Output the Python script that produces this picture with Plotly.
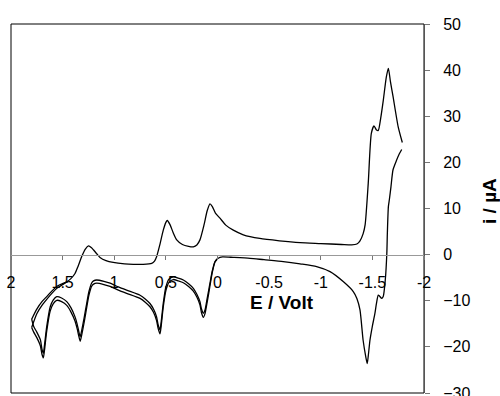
import plotly.graph_objects as go

# Cathodic (forward) sweep, cycle 1
E_fwd = [1.80, 1.75, 1.70, 1.654, 1.60, 1.55, 1.50, 1.46, 1.42, 1.38, 1.35, 1.315, 1.28, 1.25,
         1.22, 1.20, 1.17, 1.138, 1.08, 1.01, 0.90, 0.815, 0.72, 0.637, 0.61, 0.589, 0.56,
         0.525, 0.50, 0.486, 0.46, 0.43, 0.395, 0.34, 0.28, 0.234, 0.20, 0.17, 0.13, 0.10,
         0.073, 0.05, 0.02, -0.024, -0.08, -0.153, -0.25, -0.41, -0.6, -0.8, -1.0, -1.2,
         -1.3, -1.35, -1.38, -1.41, -1.43, -1.46, -1.49, -1.516, -1.54, -1.557, -1.58,
         -1.606, -1.635, -1.655, -1.675, -1.70, -1.75, -1.79]
i_fwd = [-14.0, -11.8, -10.2, -9.1, -7.8, -6.8, -6.3, -5.9, -5.2, -4.1, -2.5, -0.4, 1.2, 1.9,
         1.5, 1.0, 0.2, -0.6, -1.3, -1.7, -2.0, -2.1, -2.1, -1.9, -1.4, -0.4, 2.0,
         5.3, 7.0, 7.4, 6.5, 4.8, 3.2, 2.2, 1.8, 1.7, 2.1, 3.2, 6.5, 9.5,
         11.0, 10.4, 9.0, 7.9, 6.4, 5.3, 4.3, 3.5, 3.0, 2.6, 2.4, 2.2,
         2.1, 2.3, 3.0, 4.5, 6.5, 15.5, 26.3, 27.9, 27.0, 26.9, 29.5,
         33.5, 38.5, 40.4, 37.5, 34.3, 27.7, 24.3]

# Anodic (reverse) sweep, cycle 1
E_rev = [-1.784, -1.76, -1.735, -1.70, -1.68, -1.665, -1.655, -1.645, -1.64, -1.625, -1.605,
         -1.59, -1.57, -1.557, -1.54, -1.525, -1.50, -1.477, -1.46, -1.45, -1.435, -1.41,
         -1.38, -1.35, -1.315, -1.22, -1.09, -0.96, -0.80, -0.637, -0.45, -0.315, -0.15,
         -0.05, -0.024, 0.0, 0.024, 0.05, 0.073, 0.10, 0.121, 0.137, 0.155, 0.17, 0.20,
         0.234, 0.28, 0.331, 0.38, 0.428, 0.47, 0.50, 0.525, 0.545, 0.557, 0.575, 0.59,
         0.62, 0.654, 0.70, 0.75, 0.88, 0.96, 1.04, 1.10, 1.17, 1.20, 1.22, 1.245, 1.267,
         1.29, 1.315, 1.33, 1.345, 1.36, 1.38, 1.42, 1.46, 1.51, 1.557, 1.59, 1.62, 1.654,
         1.675, 1.687, 1.70, 1.715, 1.75, 1.78, 1.80]
i_rev = [22.8, 21.8, 20.5, 18.4, 14.7, 12.0, 10.4, 4.6, 0.3, -5.5, -9.1,
         -9.5, -9.0, -8.8, -10.5, -12.7, -15.5, -18.5, -22.0, -23.6, -22.0, -18.5,
         -12.0, -9.5, -8.0, -5.9, -3.7, -2.6, -2.0, -1.5, -1.1, -0.8, -0.6,
         -0.5, -0.6, -0.9, -1.5, -3.5, -6.2, -9.5, -12.0, -12.7, -11.8, -10.2, -8.6,
         -7.3, -6.3, -5.5, -5.1, -4.8, -5.3, -7.0, -10.5, -14.5, -16.3, -15.2, -13.5,
         -11.8, -10.6, -9.6, -8.8, -7.7, -7.0, -6.2, -5.8, -5.5, -5.7, -6.2, -8.0, -10.6,
         -13.5, -16.4, -17.8, -16.5, -15.0, -13.5, -11.5, -10.2, -9.4, -9.1, -9.8, -11.3, -15.6,
         -19.5, -21.4, -20.5, -18.5, -16.8, -15.6, -14.0]

# Repeat cycle: anodic branch (positive potentials) and start of cathodic sweep
E_rev2 = [0.0, 0.024, 0.05, 0.073, 0.10, 0.121, 0.137, 0.155, 0.17, 0.20, 0.234, 0.28, 0.331,
          0.38, 0.428, 0.47, 0.50, 0.525, 0.545, 0.557, 0.575, 0.59, 0.62, 0.654, 0.70, 0.75,
          0.88, 0.96, 1.04, 1.10, 1.17, 1.20, 1.22, 1.245, 1.267, 1.29, 1.315, 1.33, 1.345,
          1.36, 1.38, 1.42, 1.46, 1.51, 1.557, 1.59, 1.62, 1.654, 1.675, 1.687, 1.70, 1.715,
          1.75, 1.78, 1.80]
i_rev2 = [-0.9, -1.6, -3.8, -6.8, -10.3, -12.8, -13.6, -12.6, -10.9, -9.2, -7.9, -6.9, -6.1,
          -5.7, -5.4, -6.0, -7.8, -11.3, -15.4, -17.2, -16.0, -14.3, -12.5, -11.3, -10.3, -9.5,
          -8.4, -7.7, -6.9, -6.5, -6.2, -6.4, -6.9, -8.8, -11.5, -14.5, -17.4, -18.8, -17.5,
          -16.0, -14.4, -12.4, -11.0, -10.2, -9.9, -10.6, -12.2, -16.6, -20.6, -22.4, -21.6, -19.8,
          -18.0, -16.8, -15.8]
E_fwd2 = [1.80, 1.75, 1.70, 1.654, 1.60, 1.55, 1.50, 1.46]
i_fwd2 = [-15.8, -12.8, -11.0, -9.7, -8.3, -7.2, -6.5, -5.9]

x_ticks = [2, 1.5, 1, 0.5, 0, -0.5, -1, -1.5, -2]
x_tick_text = ["2", "1.5", "1", "0.5", "0", "-0.5", "-1", "-1.5", "-2"]
y_ticks = [-30, -20, -10, 0, 10, 20, 30, 40, 50]

FONT = "Arial, Liberation Sans, sans-serif"
line = dict(color="black", width=1.3, shape="spline", smoothing=0.6)

fig = go.Figure()
for ex, iy in [(E_fwd, i_fwd), (E_rev, i_rev), (E_rev2, i_rev2), (E_fwd2, i_fwd2)]:
    fig.add_trace(go.Scatter(x=ex, y=iy, mode="lines", line=line, showlegend=False,
                             hoverinfo="skip"))

fig.update_layout(
    width=500, height=396,
    margin=dict(l=11, r=76, t=24, b=3),
    plot_bgcolor="white", paper_bgcolor="white",
    font=dict(family=FONT, size=16, color="black"),
    xaxis=dict(range=[2, -2], anchor="free", position=0.375, showline=True,
               linecolor="#999999", linewidth=1, ticks="outside", ticklen=4,
               tickcolor="#777777", tickvals=x_ticks, ticktext=x_tick_text,
               showgrid=False, zeroline=False, tickfont=dict(size=16),
               ticklabelstandoff=9, ticklabeloverflow="allow", automargin=False),
    xaxis2=dict(range=[2, -2], overlaying="x", anchor="free", position=0.375,
                ticks="inside", ticklen=4, tickcolor="#777777", tickvals=x_ticks,
                showticklabels=False, showgrid=False, zeroline=False, showline=False,
                automargin=False),
    yaxis=dict(range=[-30, 50], side="right", showline=True, linecolor="#555555",
               linewidth=1, ticks="outside", ticklen=5, tickcolor="#777777",
               tickvals=y_ticks, showgrid=False, zeroline=False,
               tickfont=dict(size=16), ticklabelstandoff=10,
               ticklabeloverflow="allow", automargin=False),
    yaxis2=dict(range=[-30, 50], overlaying="y", side="right", ticks="inside",
                ticklen=5, tickcolor="#777777", tickvals=y_ticks,
                showticklabels=False, showgrid=False, zeroline=False, showline=False,
                automargin=False),
    shapes=[dict(type="rect", xref="paper", yref="paper", x0=0, x1=1, y0=0, y1=1,
                 line=dict(color="black", width=1), layer="below")],
    annotations=[
        dict(text="<b>E / Volt</b>", xref="paper", yref="paper", x=0.656, y=0.2466,
             xanchor="center", yanchor="middle",
             showarrow=False, font=dict(size=19, family=FONT)),
        dict(text="<b>i / µA</b>", xref="paper", yref="paper", x=1.157, y=0.52,
             xanchor="center", yanchor="middle",
             showarrow=False, textangle=-90, font=dict(size=19, family=FONT)),
    ],
)

fig.write_html("out.html")
